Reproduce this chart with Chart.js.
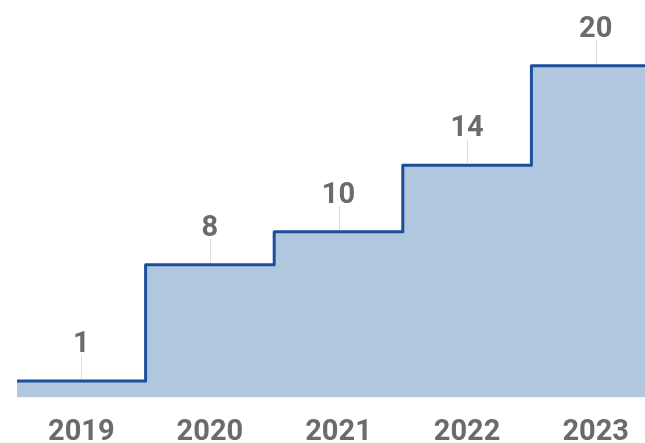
<!DOCTYPE html>
<html>
<head>
<meta charset="utf-8">
<script src="https://cdn.jsdelivr.net/npm/chart.js@4"></script>
<style>
  html, body { margin: 0; padding: 0; background: #fff; overflow: hidden; }
  #wrap { width: 645px; height: 443px; overflow: hidden; }
</style>
</head>
<body>
<div id="wrap"><canvas id="stepChart" width="660" height="443"></canvas></div>
<script>
// Dados do gráfico
const anos = ["2019", "2020", "2021", "2022", "2023"];
const valores = [1, 8, 10, 14, 20];

// Pontos: um extra em cada ponta para a área ir até as bordas
const pontos = [{ x: -0.5, y: valores[0] }]
  .concat(valores.map((v, i) => ({ x: i, y: v })))
  .concat([{ x: valores.length - 0.5, y: valores[valores.length - 1] }]);

// Rótulos acima de cada degrau com linha guia
const rotulos = {
  id: "rotulos",
  afterDatasetsDraw(chart) {
    const ctx = chart.ctx;
    const meta = chart.getDatasetMeta(0);
    ctx.save();
    valores.forEach((v, i) => {
      const p = meta.data[i + 1];
      ctx.strokeStyle = "#dddddd";
      ctx.lineWidth = 1;
      ctx.beginPath();
      ctx.moveTo(Math.round(p.x) + 0.5, p.y - 2);
      ctx.lineTo(Math.round(p.x) + 0.5, p.y - 26);
      ctx.stroke();
      ctx.fillStyle = "#6b6b6b";
      ctx.font = "bold 29px Roboto";
      ctx.textAlign = "center";
      ctx.textBaseline = "alphabetic";
      ctx.fillText(String(v), p.x, p.y - 29);
    });
    ctx.restore();
  }
};

new Chart(document.getElementById("stepChart").getContext("2d"), {
  type: "line",
  data: {
    datasets: [{
      data: pontos,
      stepped: "middle",
      borderColor: "#1b4f9c",
      borderWidth: 3,
      borderJoinStyle: "round",
      backgroundColor: "#b1c7df",
      fill: "origin",
      pointRadius: 0
    }]
  },
  plugins: [rotulos],
  options: {
    responsive: false,
    animation: false,
    layout: { padding: { left: 17, right: 0, top: 16, bottom: 0 } },
    plugins: { legend: { display: false }, tooltip: { enabled: false } },
    scales: {
      x: {
        type: "linear",
        min: -0.5,
        max: anos.length - 0.5,
        afterBuildTicks: scale => { scale.ticks = anos.map((a, i) => ({ value: i })); },
        afterFit: scale => { scale.height = 45.5; },
        grid: { display: false, drawTicks: false },
        border: { display: false },
        ticks: {
          callback: v => anos[v],
          color: "#6b6b6b",
          font: { family: "Roboto", size: 29, weight: "bold" },
          padding: 18,
          maxRotation: 0,
          autoSkip: false
        }
      },
      y: {
        display: false,
        min: 0,
        max: 23
      }
    }
  }
});
</script>
</body>
</html>
